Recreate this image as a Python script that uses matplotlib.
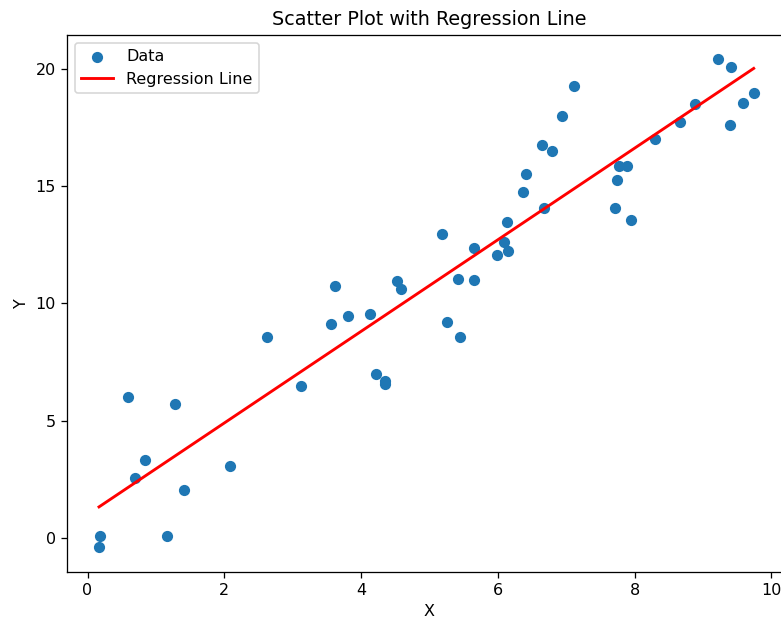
import numpy as np
import matplotlib
matplotlib.use("Agg")
import matplotlib.pyplot as plt

x_vals = [0.183, 0.168, 0.592, 0.845, 0.69, 1.275, 1.167, 1.406, 2.088, 2.629,
          3.126, 3.614, 3.56, 3.804, 4.126, 4.213, 4.345, 4.35, 4.53, 4.58,
          5.19, 5.26, 5.45, 5.416, 5.65, 5.65, 5.99, 6.13, 6.09, 6.15,
          6.67, 6.367, 6.415, 6.645, 6.79, 6.94, 7.11, 7.706, 7.946, 7.746,
          7.775, 7.89, 8.29, 8.66, 8.88, 9.218, 9.41, 9.39, 9.59, 9.74]
y_vals = [0.085, -0.41, 5.99, 3.30, 2.53, 5.69, 0.085, 2.02, 3.07, 8.57,
          6.49, 10.76, 9.11, 9.46, 9.56, 6.99, 6.70, 6.55, 10.96, 10.60,
          12.95, 9.22, 8.58, 11.05, 11.01, 12.36, 12.05, 13.49, 12.63, 12.25,
          14.08, 14.77, 15.52, 16.76, 16.52, 18.0, 19.29, 14.08, 13.57, 15.27,
          15.86, 15.86, 17.0, 17.74, 18.51, 20.43, 20.08, 17.60, 18.54, 18.99]

x = np.array(x_vals)
y = np.array(y_vals)
slope, intercept = np.polyfit(x, y, 1)

DPI = 115
fig = plt.figure(figsize=(781 / DPI, 621 / DPI), dpi=DPI)
ax = fig.add_axes([67.0 / 781, (621 - 571.7) / 621, (792.0 - 67.0) / 781, (571.7 - 34.6) / 621])

ax.scatter(x, y, label="Data")
order = np.argsort(x)
ax.plot(x[order], slope * x[order] + intercept, color="red", linewidth=1.8, label="Regression Line")

ax.set_xlim(-0.3, 10.3)
ax.set_title("Scatter Plot with Regression Line")
ax.set_xlabel("X")
ax.set_ylabel("Y")
ax.legend(loc="upper left")

fig.savefig("out.png", dpi=DPI)
